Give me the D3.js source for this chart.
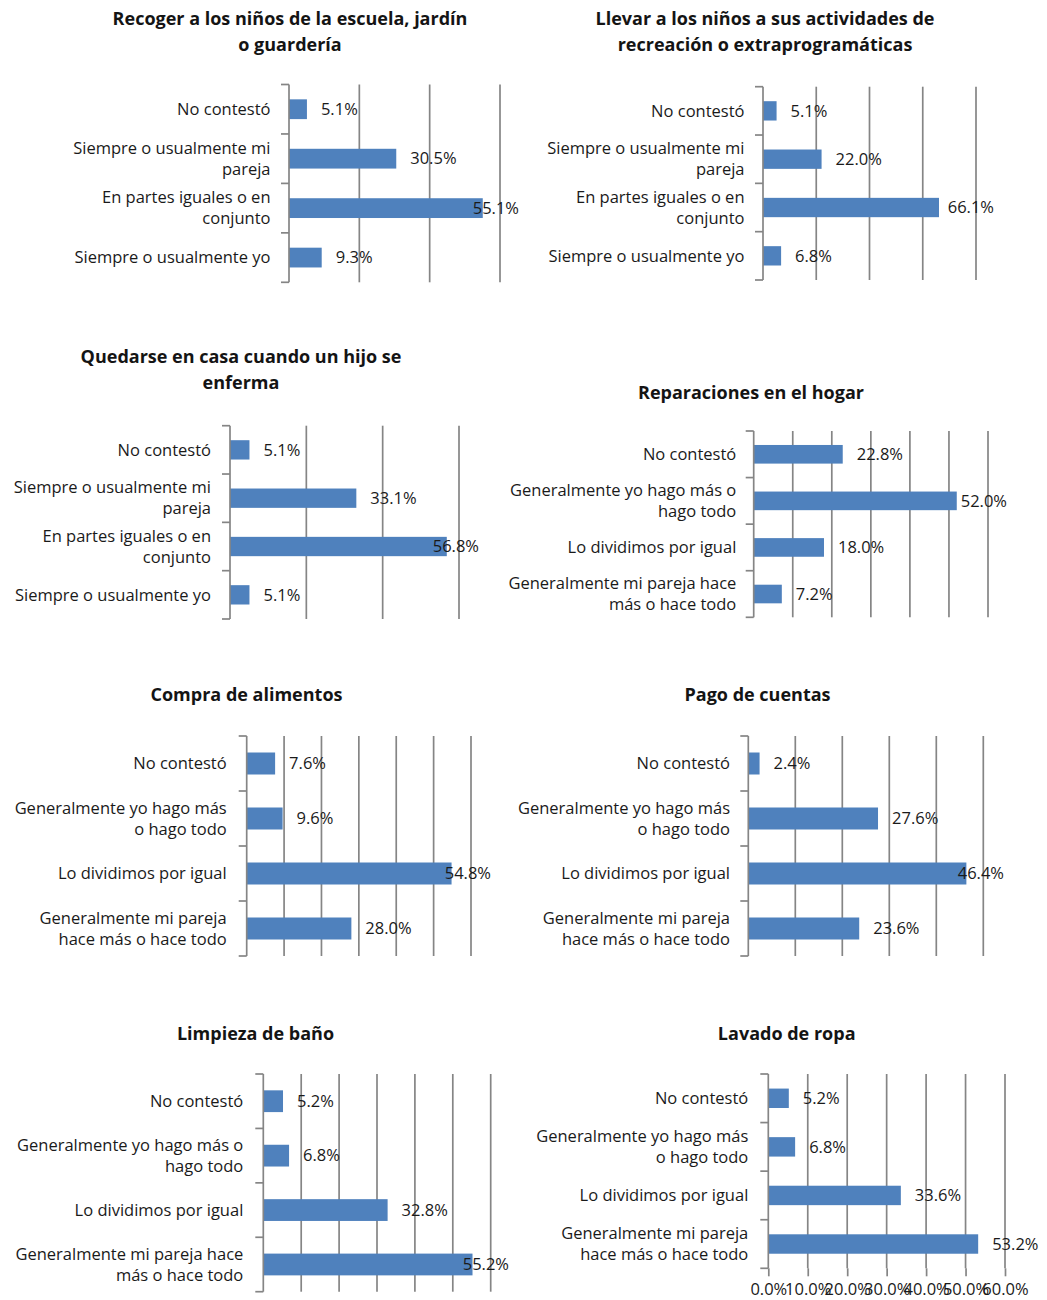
<!DOCTYPE html>
<html>
<head>
<meta charset="utf-8">
<script src="https://cdn.jsdelivr.net/npm/d3@7"></script>
<style>
  body { margin: 0; background: #fff; }
  svg { display: block; }
  text { font-family: "Open Sans", "DejaVu Sans", sans-serif; fill: #1a1a1a; }
</style>
</head>
<body>
<svg id="chart" width="1047" height="1300"></svg>
<script>
// Who does each household task (percentage of respondents)

const catsChildren = [
  "No contestó",
  "Siempre o usualmente mi pareja",
  "En partes iguales o en conjunto",
  "Siempre o usualmente yo"
];
const catsHome = [
  "No contestó",
  "Generalmente yo hago más o hago todo",
  "Lo dividimos por igual",
  "Generalmente mi pareja hace más o hace todo"
];

const titleRecoger      = ["Recoger a los niños de la escuela, jardín", "o guardería"];
const titleLlevar       = ["Llevar a los niños a sus actividades de", "recreación o extraprogramáticas"];
const titleQuedarse     = ["Quedarse en casa cuando un hijo se", "enferma"];
const titleReparaciones = ["Reparaciones en el hogar"];
const titleCompra       = ["Compra de alimentos"];
const titlePago         = ["Pago de cuentas"];
const titleLimpieza     = ["Limpieza de baño"];
const titleLavado       = ["Lavado de ropa"];

const valRecoger      = [5.1, 30.5, 55.1, 9.3];
const valLlevar       = [5.1, 22.0, 66.1, 6.8];
const valQuedarse     = [5.1, 33.1, 56.8, 5.1];
const valReparaciones = [22.8, 52.0, 18.0, 7.2];
const valCompra       = [7.6, 9.6, 54.8, 28.0];
const valPago         = [2.4, 27.6, 46.4, 23.6];
const valLimpieza     = [5.2, 6.8, 32.8, 55.2];
const valLavado       = [5.2, 6.8, 33.6, 53.2];

// value-axis maximum and gridline step of each chart
const axisMax  = [60, 80, 60, 60, 60, 50, 60, 60];
const gridStep = [20, 20, 20, 10, 10, 10, 10, 10];

// tick labels shown under the last chart
const xTicksLavado = [0, 10, 20, 30, 40, 50, 60];

const charts = [
  { title: titleRecoger,      cats: catsChildren, values: valRecoger },
  { title: titleLlevar,       cats: catsChildren, values: valLlevar },
  { title: titleQuedarse,     cats: catsChildren, values: valQuedarse },
  { title: titleReparaciones, cats: catsHome,     values: valReparaciones },
  { title: titleCompra,       cats: catsHome,     values: valCompra },
  { title: titlePago,         cats: catsHome,     values: valPago },
  { title: titleLimpieza,     cats: catsHome,     values: valLimpieza },
  { title: titleLavado,       cats: catsHome,     values: valLavado, ticks: xTicksLavado }
];

// plot-area geometry of each chart
const frames = [
  { x0: 289,   x1: 500,   top: 84.5,  bottom: 282.3,  labelRight: 270.5, wrap: 215, tx: 290,   ty: 25,    limit: 519 },
  { x0: 763,   x1: 976,   top: 86.7,  bottom: 280,    labelRight: 744.5, wrap: 215, tx: 765,   ty: 25,    limit: 994 },
  { x0: 230,   x1: 459,   top: 425.7, bottom: 619,    labelRight: 211,   wrap: 215, tx: 241,   ty: 363,   limit: 479 },
  { x0: 753.7, x1: 988,   top: 431,   bottom: 617.3,  labelRight: 736.3, wrap: 240, tx: 751,   ty: 399,   limit: 1007 },
  { x0: 246.7, x1: 471,   top: 736,   bottom: 956,    labelRight: 226.7, wrap: 218, tx: 246.5, ty: 701,   limit: 491 },
  { x0: 748.3, x1: 983.3, top: 736,   bottom: 956,    labelRight: 730,   wrap: 218, tx: 757.5, ty: 701,   limit: 1004 },
  { x0: 263.3, x1: 490.7, top: 1074,  bottom: 1291.7, labelRight: 243.3, wrap: 240, tx: 255.5, ty: 1040,  limit: 509 },
  { x0: 768.3, x1: 1005,  top: 1074,  bottom: 1268.3, labelRight: 748.3, wrap: 218, tx: 786.7, ty: 1040,  limit: 1045 }
];

const BAR = "#4F81BD";
const GRID = "#858585";
const FS = 16.5;
const LINE_H = 21;

const svg = d3.select("#chart");

// measuring helper for word wrapping
const probe = svg.append("text").style("font-size", FS + "px").attr("visibility", "hidden");
function textWidth(s) { probe.text(s); return probe.node().getComputedTextLength(); }
function wrapLines(s, width) {
  const words = s.split(" ");
  const lines = [];
  let cur = "";
  words.forEach(w => {
    const test = cur ? cur + " " + w : w;
    if (cur && textWidth(test) > width) { lines.push(cur); cur = w; }
    else cur = test;
  });
  if (cur) lines.push(cur);
  return lines;
}

charts.forEach((c, k) => {
  const f = frames[k];
  const g = svg.append("g");

  const x = d3.scaleLinear().domain([0, axisMax[k]]).range([f.x0, f.x1]);
  const y = d3.scaleBand().domain(c.cats).range([f.top, f.bottom])
    .paddingInner(0.6).paddingOuter(0.3);

  // title
  const t = g.append("text")
    .attr("text-anchor", "middle")
    .style("font-size", "18px")
    .style("font-weight", 700)
    .style("fill", "#141414");
  c.title.forEach((line, i) => {
    t.append("tspan").attr("x", f.tx).attr("y", f.ty + i * 25.5).text(line);
  });

  // vertical gridlines
  const gridVals = d3.range(gridStep[k], axisMax[k] + gridStep[k] / 2, gridStep[k]);
  g.selectAll("line.grid").data(gridVals).join("line")
    .attr("class", "grid")
    .attr("x1", d => x(d)).attr("x2", d => x(d))
    .attr("y1", f.top).attr("y2", f.bottom)
    .attr("stroke", GRID).attr("stroke-width", 1.7);

  // value axis with tick labels (last chart only)
  if (c.ticks) {
    const ax = g.append("g")
      .attr("transform", `translate(0,${f.bottom})`)
      .call(d3.axisBottom(x).tickValues(c.ticks)
        .tickFormat(d => d.toFixed(1) + "%")
        .tickSize(8).tickPadding(7));
    ax.select(".domain").remove();
    ax.selectAll("line").attr("stroke", GRID).attr("stroke-width", 1.7);
    ax.selectAll("text").style("font-size", FS + "px").style("font-family", "'Open Sans', sans-serif").attr("fill", "#1a1a1a");
  }

  // bars
  g.selectAll("rect").data(c.values).join("rect")
    .attr("x", x(0))
    .attr("y", (d, i) => y(c.cats[i]))
    .attr("width", d => x(d) - x(0))
    .attr("height", y.bandwidth())
    .attr("fill", BAR);

  // category axis line and boundary ticks
  g.append("line")
    .attr("x1", x(0)).attr("x2", x(0))
    .attr("y1", f.top).attr("y2", f.bottom)
    .attr("stroke", GRID).attr("stroke-width", 1.7);
  const bounds = d3.range(c.cats.length + 1).map(i => f.top + i * y.step());
  g.selectAll("line.ctick").data(bounds).join("line")
    .attr("class", "ctick")
    .attr("x1", x(0) - 8).attr("x2", x(0))
    .attr("y1", d => d).attr("y2", d => d)
    .attr("stroke", GRID).attr("stroke-width", 1.7);

  // category labels
  c.cats.forEach(cat => {
    const lines = wrapLines(cat, f.wrap);
    const cy = y(cat) + y.bandwidth() / 2;
    const lt = g.append("text")
      .attr("text-anchor", "end")
      .style("font-size", FS + "px");
    lines.forEach((ln, i) => {
      lt.append("tspan")
        .attr("x", f.labelRight)
        .attr("y", cy + (i - (lines.length - 1) / 2) * LINE_H)
        .attr("dy", "0.35em")
        .text(ln);
    });
  });

  // value labels: outside the bar end, kept inside the chart area
  c.values.forEach((v, i) => {
    const lbl = g.append("text")
      .style("font-size", FS + "px")
      .attr("y", y(c.cats[i]) + y.bandwidth() / 2)
      .attr("dy", "0.35em")
      .text(v.toFixed(1) + "%");
    const w = lbl.node().getComputedTextLength();
    lbl.attr("x", Math.min(x(v) + 14, f.limit - w));
  });
});

probe.remove();
</script>
</body>
</html>
